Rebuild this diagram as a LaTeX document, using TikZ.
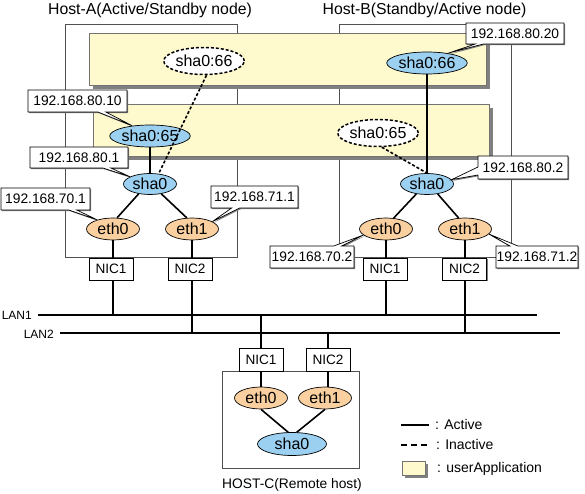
\documentclass[tikz,border=0pt]{standalone}
\usepackage{fontspec}
\setmainfont{Liberation Sans}
\usetikzlibrary{shapes.geometric,shapes.callouts,shadows}
\definecolor{ufill}{RGB}{255,250,205}
\definecolor{bfill}{RGB}{155,208,240}
\definecolor{ofill}{RGB}{250,208,160}
\definecolor{framec}{RGB}{80,80,80}
\definecolor{shad}{RGB}{128,128,128}
\begin{document}
\begin{tikzpicture}[x=1pt,y=-1pt,
  hostframe/.style={draw=framec,line width=0.8pt},
  appbox/.style={draw=framec!80,line width=0.6pt,fill=ufill},
  appshadow/.style={fill=shad},
  ellfont/.style={font=\fontsize{16}{16}\selectfont},
  blueell/.style={ellipse,draw,line width=0.7pt,fill=bfill,inner sep=0pt,ellfont},
  orangeell/.style={ellipse,draw,line width=0.7pt,fill=ofill,inner sep=0pt,minimum width=53pt,minimum height=22pt,ellfont},
  deadell/.style={ellipse,draw,line width=1.5pt,dash pattern=on 3pt off 2pt,fill=white,inner sep=0pt,minimum width=70pt,minimum height=27pt,ellfont},
  nicbox/.style={draw,line width=0.7pt,fill=white,minimum width=44pt,minimum height=22pt,inner sep=0pt,font=\fontsize{13.6}{13.6}\selectfont,drop shadow={shadow xshift=1.2pt,shadow yshift=-1.2pt,fill=shad,opacity=1}},
  ipbox/.style={rectangle callout,draw,line width=0.7pt,fill=white,minimum height=22pt,inner sep=0pt,callout pointer width=8pt,font=\fontsize{13.8}{13.8}\selectfont,drop shadow={shadow xshift=1.2pt,shadow yshift=-1.2pt,fill=shad,opacity=1}},
  act/.style={line width=1.6pt},
  inact/.style={line width=1.6pt,dash pattern=on 3pt off 2pt},
  lan/.style={line width=1.8pt},
  txt/.style={inner sep=0pt},
]
\useasboundingbox (0,0) rectangle (585,494);

% titles
\node[txt,anchor=base,font=\fontsize{15.8}{15.8}\selectfont] (titleA) at (150,15) {Host-A(Active/Standby node)};
\node[txt,anchor=base,font=\fontsize{15.8}{15.8}\selectfont] (titleB) at (424.5,15) {Host-B(Standby/Active node)};

% host frames
\draw[hostframe] (65,24) rectangle (237,257);
\draw[hostframe] (339,24) rectangle (511,257);

% userApplication boxes
\fill[appshadow] (93,37) rectangle (490,89);
\draw[appbox] (89,33) rectangle (486,85);
\fill[appshadow] (97,108) rectangle (493,160);
\draw[appbox] (93,104) rectangle (489,156);

% Host-A ellipses
\node[deadell] (sha66A) at (204,61) {sha0:66};
\node[blueell,minimum width=70pt,minimum height=22pt] (sha65A) at (150,136) {sha0:65};
\node[blueell,minimum width=53pt,minimum height=21pt] (sha0A) at (150,184) {sha0};
\node[orangeell] (eth0A) at (113,229) {eth0};
\node[orangeell] (eth1A) at (192,229) {eth1};

% Host-B ellipses
\node[blueell,minimum width=70pt,minimum height=22pt] (sha66B) at (427,63) {sha0:66};
\node[deadell] (sha65B) at (378,133) {sha0:65};
\node[blueell,minimum width=53pt,minimum height=21pt] (sha0B) at (427,184) {sha0};
\node[orangeell] (eth0B) at (386,229) {eth0};
\node[orangeell] (eth1B) at (465,229) {eth1};

% connectors Host-A
\draw[act] (sha65A) -- (sha0A);
\draw[act] (sha0A.-139) -- (eth0A.70);
\draw[act] (sha0A.-41) -- (eth1A.115);
\draw[inact] (sha66A.-80) -- (sha0A.50);

% connectors Host-B
\draw[act] (sha66B) -- (sha0B);
\draw[inact] (sha65B.-75) -- (sha0B.north);
\draw[act] (sha0B.-137) -- (eth0B.55);
\draw[act] (sha0B.-43) -- (eth1B.120);

% NICs
\node[nicbox] (NIC1A) at (111,269) {NIC1};
\node[nicbox] (NIC2A) at (190,269) {NIC2};
\node[nicbox] (NIC1B) at (385,269) {NIC1};
\node[nicbox] (NIC2B) at (464.5,269) {NIC2};

% LAN coordinates
\coordinate (lan1w) at (38,315);
\coordinate (lan1e) at (537,315);
\coordinate (lan2w) at (60,333);
\coordinate (lan2e) at (560,333);
\draw[lan] (lan1w) -- (lan1e);
\draw[lan] (lan2w) -- (lan2e);
\node[txt,anchor=base east,font=\fontsize{12}{12}\selectfont] (lan1t) at (32,319) {LAN1};
\node[txt,anchor=base east,font=\fontsize{12}{12}\selectfont] (lan2t) at (54,338) {LAN2};

\draw[act] (eth0A.south) -- (eth0A.south |- NIC1A.north);
\draw[act] (eth1A.south) -- (eth1A.south |- NIC2A.north);
\draw[act] (eth0B.south) -- (eth0B.south |- NIC1B.north);
\draw[act] (eth1B.south) -- (eth1B.south |- NIC2B.north);
\draw[act] (eth0A.south |- NIC1A.south) -- (eth0A.south |- lan1w);
\draw[act] (eth1A.south |- NIC2A.south) -- (eth1A.south |- lan2w);
\draw[act] (eth0B.south |- NIC1B.south) -- (eth0B.south |- lan1w);
\draw[act] (eth1B.south |- NIC2B.south) -- (eth1B.south |- lan2w);

% Host-C
\draw[hostframe] (222,371) rectangle (359,468);
\node[nicbox,minimum height=23pt] (NIC1C) at (261,359.5) {NIC1};
\node[nicbox,minimum height=23pt] (NIC2C) at (328,359.5) {NIC2};
\node[orangeell] (eth0C) at (261,398) {eth0};
\node[orangeell] (eth1C) at (325,398) {eth1};
\node[blueell,minimum width=69pt,minimum height=23pt] (sha0C) at (292,444) {sha0};
\draw[act] (NIC1C.north) -- (NIC1C.north |- lan1w);
\draw[act] (NIC2C.north) -- (NIC2C.north |- lan2w);
\draw[act] (NIC1C.south) -- (NIC1C.south |- eth0C.north);
\draw[act] (NIC2C.south) -- (NIC2C.south |- eth1C.north);
\draw[act] (eth0C.south) -- (sha0C.108);
\draw[act] (eth1C.south) -- (sha0C.68);
\node[txt,anchor=base,font=\fontsize{13.8}{13.8}\selectfont] (titleC) at (292,488) {HOST-C(Remote host)};

% IP callouts
\node[ipbox,minimum width=99pt,callout absolute pointer={(sha65A.150)}] (L8010) at (77.5,101) {192.168.80.10};
\node[ipbox,minimum width=98pt,minimum height=21pt,callout absolute pointer={(sha0A.160)}] (L801) at (79,157.5) {192.168.80.1};
\node[ipbox,minimum width=89pt,callout absolute pointer={(eth0A.150)}] (L701) at (45.5,199) {192.168.70.1};
\node[ipbox,minimum width=87pt,callout absolute pointer={(eth1A.20)}] (L711) at (254.5,197) {192.168.71.1};
\node[ipbox,minimum width=98pt,minimum height=21pt,callout absolute pointer={(sha66B.25)}] (L8020) at (515,33.5) {192.168.80.20};
\node[ipbox,minimum width=90pt,minimum height=23pt,callout absolute pointer={(sha0B.10)}] (L802) at (523,167.5) {192.168.80.2};
\node[ipbox,minimum width=84pt,callout absolute pointer={(eth0B.195)}] (L702) at (312,257) {192.168.70.2};
\node[ipbox,minimum width=82pt,callout absolute pointer={(eth1B.-12)}] (L712) at (537,257) {192.168.71.2};

% legend
\coordinate (lga1) at (401,425);
\coordinate (lga2) at (429,425);
\coordinate (lgi1) at (401,445);
\coordinate (lgi2) at (429,445);
\draw[act] (lga1) -- (lga2);
\draw[line width=1.6pt,dash pattern=on 6pt off 4pt] (lgi1) -- (lgi2);
\fill[appshadow] (405,464) rectangle (428,478);
\draw[appbox] (402,461) rectangle (425,475);
\node[txt,anchor=base west,font=\fontsize{14}{14}\selectfont] (lgt1) at (435,429) {: Active};
\node[txt,anchor=base west,font=\fontsize{14}{14}\selectfont] (lgt2) at (436,449) {: Inactive};
\node[txt,anchor=base west,font=\fontsize{14}{14}\selectfont] (lgt3) at (437,472) {: userApplication};
\end{tikzpicture}
\end{document}
